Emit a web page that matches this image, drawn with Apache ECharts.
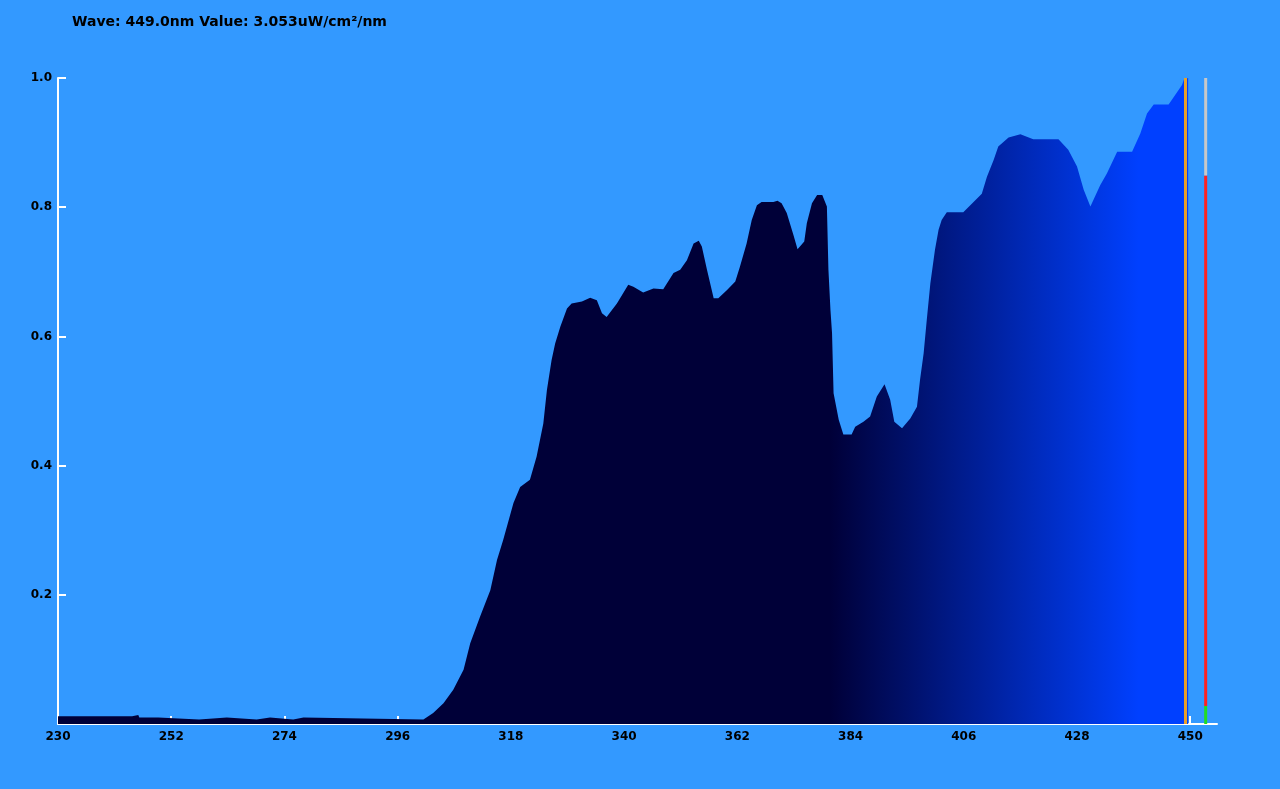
<!DOCTYPE html>
<html>
<head>
<meta charset="utf-8">
<script src="https://cdn.jsdelivr.net/npm/echarts@6/dist/echarts.min.js"></script>
<style>
html,body{margin:0;padding:0;background:#3399FF;}
#chart{width:1280px;height:789px;}
</style>
</head>
<body>
<div id="chart"></div>
<script>
// ---- data ----
const titleText = 'Wave: 449.0nm Value: 3.053uW/cm²/nm';
const wavelengths = [
  230, 244.4, 244.6, 245.6, 245.8, 249.5, 249.7, 257.4, 257.6, 262.8, 263.0, 268.6, 268.8, 271.2, 271.4, 275.7, 275.9, 277.7, 277.9, 301.0,
  302.9, 304.9, 306.8, 308.8, 310.1, 312.0, 314.0, 315.3, 316.5, 318.5, 319.8, 321.7, 323.0, 324.3, 325.0, 325.9, 326.6, 327.6, 328.9, 329.8,
  331.8, 333.4, 334.7, 335.7, 336.6, 338.6, 340.8, 341.8, 343.7, 345.7, 347.6, 349.6, 350.9, 352.2, 353.5, 354.5, 355.1, 356.1, 357.4, 358.3,
  360.0, 361.6, 362.5, 363.8, 364.8, 365.8, 366.7, 369.0, 369.8, 370.6, 371.6, 372.9, 373.7, 375.0, 375.5, 376.5, 377.5, 378.5, 379.4, 379.7,
  380.1, 380.4, 380.7, 381.7, 382.6, 384.2, 384.9, 386.5, 387.8, 389.1, 390.6, 391.7, 392.5, 394.0, 395.6, 396.9, 397.5, 398.2, 398.8, 399.5,
  400.4, 401.1, 401.7, 402.7, 405.9, 409.5, 410.5, 411.8, 412.7, 414.7, 417.0, 419.5, 424.4, 426.3, 428.0, 429.3, 430.6, 432.5, 433.8, 435.8,
  438.7, 440.3, 441.6, 442.9, 445.8, 448.4, 448.8, 449.6
];
const intensities = [
  0.012, 0.012, 0.014, 0.014, 0.010, 0.010, 0.007, 0.007, 0.010, 0.010, 0.007, 0.007, 0.010, 0.010, 0.007, 0.007, 0.010, 0.010, 0.007, 0.007,
  0.017, 0.032, 0.053, 0.084, 0.125, 0.166, 0.207, 0.254, 0.285, 0.342, 0.367, 0.378, 0.414, 0.465, 0.517, 0.563, 0.589, 0.615, 0.643, 0.651,
  0.654, 0.660, 0.656, 0.636, 0.630, 0.651, 0.680, 0.677, 0.668, 0.674, 0.673, 0.698, 0.703, 0.718, 0.744, 0.748, 0.739, 0.703, 0.659, 0.659,
  0.672, 0.685, 0.708, 0.744, 0.780, 0.803, 0.808, 0.808, 0.810, 0.806, 0.791, 0.757, 0.735, 0.747, 0.775, 0.806, 0.819, 0.819, 0.801, 0.703,
  0.640, 0.605, 0.512, 0.471, 0.448, 0.448, 0.460, 0.468, 0.476, 0.507, 0.526, 0.502, 0.468, 0.458, 0.473, 0.491, 0.533, 0.574, 0.625, 0.682,
  0.734, 0.765, 0.780, 0.792, 0.792, 0.821, 0.847, 0.873, 0.894, 0.908, 0.913, 0.905, 0.905, 0.889, 0.863, 0.827, 0.801, 0.834, 0.852, 0.886,
  0.886, 0.914, 0.945, 0.959, 0.959, 0.989, 0.998, 1.000
];
const xTicks = [230, 252, 274, 296, 318, 340, 362, 384, 406, 428, 450];
const yTicks = [0.2, 0.4, 0.6, 0.8, 1.0];
const cursorWave = 449;
// colour of the fill by wavelength: [nm, colour]
const fillStops = [[380, '#000038'], [440, '#0040FF']];
// level indicator bar on the right
const indicatorWave = 453;
const indicatorLevels = [0, 0.028, 0.849, 1.0];
const indicatorColors = ['#22DD22', '#FF2222', '#C8C8C8'];

// ---- chart ----
const chart = echarts.init(document.getElementById('chart'), null, {renderer: 'canvas'});
const seriesData = wavelengths.map((w, i) => [w, intensities[i]]);
const wMin = Math.min(...wavelengths), wMax = Math.max(...wavelengths);
const gradStops = [];
gradStops.push({offset: 0, color: fillStops[0][1]});
fillStops.forEach(s => gradStops.push({offset: (s[0] - wMin) / (wMax - wMin), color: s[1]}));
gradStops.push({offset: 1, color: fillStops[fillStops.length - 1][1]});

const labelFont = {color: '#000', fontFamily: 'DejaVu Sans', fontWeight: 'bold', fontSize: 12};

const indicatorSeries = indicatorColors.map((c, i) => ({
  type: 'line',
  data: [[indicatorWave, indicatorLevels[i]], [indicatorWave, indicatorLevels[i + 1]]],
  showSymbol: false,
  symbol: 'none',
  lineStyle: {color: c, width: 3},
  silent: true,
  z: 5
}));

chart.setOption({
  animation: false,
  backgroundColor: '#3399FF',
  title: {
    text: titleText,
    left: 67,
    top: 10,
    textStyle: {color: '#000', fontFamily: 'DejaVu Sans', fontWeight: 'bold', fontSize: 14}
  },
  grid: {left: 58, right: 63, top: 78, bottom: 65, containLabel: false},
  xAxis: {
    type: 'value',
    min: 230,
    max: 455.2,
    interval: 22,
    axisLine: {show: true, lineStyle: {color: '#fff', width: 2}},
    axisTick: {show: true, inside: true, length: 8, lineStyle: {color: '#fff', width: 2}, customValues: xTicks},
    axisLabel: Object.assign({margin: 7, customValues: xTicks, formatter: v => String(v)}, labelFont),
    splitLine: {show: false}
  },
  yAxis: {
    type: 'value',
    min: 0,
    max: 1,
    axisLine: {show: true, lineStyle: {color: '#fff', width: 2}},
    axisTick: {show: true, inside: true, length: 8, lineStyle: {color: '#fff', width: 2}, customValues: yTicks},
    axisLabel: Object.assign({margin: 6, customValues: yTicks, formatter: v => v.toFixed(1)}, labelFont),
    splitLine: {show: false}
  },
  series: [
    {
      type: 'line',
      data: seriesData,
      showSymbol: false,
      symbol: 'none',
      lineStyle: {width: 0},
      areaStyle: {
        opacity: 1,
        color: new echarts.graphic.LinearGradient(0, 0, 1, 0, gradStops)
      },
      markLine: {
        silent: true,
        symbol: ['none', 'none'],
        label: {show: false},
        lineStyle: {color: '#E8A02A', width: 3, type: 'solid'},
        data: [{xAxis: cursorWave}]
      },
      z: 2
    }
  ].concat(indicatorSeries)
});
</script>
</body>
</html>
